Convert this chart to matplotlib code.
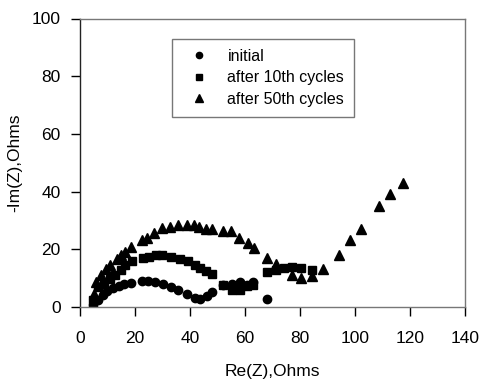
import matplotlib
matplotlib.use("Agg")
import matplotlib.pyplot as plt

plt.rcParams['font.family'] = ['Liberation Sans', 'DejaVu Sans']

# initial (circles)
init_x = [4.9, 6.6, 8.4, 10.0, 12.1, 14.2, 16.1, 18.5, 22.5, 24.8, 27.2, 30.3, 33.1, 35.8,
          38.8, 41.9, 43.7, 46.1, 48.0, 52.0, 55.3, 58.1, 60.8, 63.0, 68.1]
init_y = [0.6, 2.3, 4.0, 5.4, 6.6, 7.3, 7.8, 8.4, 9.0, 9.0, 8.7, 7.9, 6.9, 5.8,
          4.4, 3.1, 2.6, 3.8, 5.2, 7.7, 8.1, 8.7, 7.7, 8.7, 2.9]

# after 10th cycles (squares)
c10_x = [4.9, 6.6, 8.8, 10.8, 12.7, 14.9, 16.4, 18.8, 22.8, 25.0, 27.6, 30.0, 33.0, 36.4,
         39.2, 41.9, 43.7, 45.9, 48.0, 52.0, 55.3, 58.1, 60.8, 63.0, 68.1, 71.2, 74.2,
         77.3, 80.4, 84.6]
c10_y = [2.3, 6.9, 8.1, 9.6, 11.0, 12.7, 14.4, 15.9, 17.0, 17.4, 17.9, 18.1, 17.5, 16.7,
         15.9, 14.4, 13.6, 12.5, 11.3, 7.5, 6.0, 5.8, 7.2, 7.7, 12.1, 12.9, 13.5,
         13.8, 13.6, 12.9]

# after 50th cycles (triangles)
c50_x = [5.2, 6.0, 7.8, 9.6, 10.8, 13.3, 15.1, 16.5, 18.5, 22.5, 24.3, 27.0, 29.7, 32.7,
         35.8, 38.8, 41.6, 43.4, 45.8, 48.2, 52.0, 55.1, 58.0, 61.0, 63.2, 68.1, 71.2,
         77.3, 80.4, 84.4, 88.3, 94.4, 98.3, 102.3, 108.7, 112.7, 117.6]
c50_y = [4.5, 8.7, 11.0, 13.3, 14.4, 16.7, 18.1, 19.0, 20.8, 23.1, 23.9, 25.6, 27.3, 27.7,
         28.3, 28.5, 28.3, 27.7, 27.1, 26.9, 26.5, 26.2, 24.0, 22.1, 20.5, 17.1, 15.0,
         11.0, 10.0, 10.7, 13.0, 18.0, 23.1, 27.1, 34.9, 39.2, 43.0]

labels = ["initial", "after 10th cycles", "after 50th cycles"]
x_ticks = [0, 20, 40, 60, 80, 100, 120, 140]
y_ticks = [0, 20, 40, 60, 80, 100]

fig = plt.figure(figsize=(4.82, 3.79), dpi=100)
ax = fig.add_axes([80 / 482, 1 - 307 / 379, (464.7 - 80) / 482, (307 - 18.5) / 379])

ax.plot(init_x, init_y, 'o', color='black', markersize=6, linestyle='none', label=labels[0])
ax.plot(c10_x, c10_y, 's', color='black', markersize=5.5, linestyle='none', label=labels[1])
ax.plot(c50_x, c50_y, '^', color='black', markersize=7, linestyle='none', label=labels[2])

ax.set_xlim(0, 140)
ax.set_ylim(0, 100)
ax.set_xticks(x_ticks)
ax.set_yticks(y_ticks)
ax.tick_params(direction='out', length=6.5, width=1, labelsize=12.5, colors='black')
ax.tick_params(axis='x', pad=10.5)
ax.tick_params(axis='y', pad=7.5)
ax.set_xlabel("Re(Z),Ohms", fontsize=12.5, labelpad=13)
ax.set_ylabel("-Im(Z),Ohms", fontsize=12.5, labelpad=7)

ax.spines['left'].set_color('#222222')
for side in ['top', 'right', 'bottom']:
    ax.spines[side].set_color('#777777')
for s in ax.spines.values():
    s.set_linewidth(1)

leg = ax.legend(loc='upper left', bbox_to_anchor=(0.24, 0.929), borderaxespad=0,
                fontsize=11.5, frameon=True, fancybox=False, edgecolor='#555555',
                markerscale=0.75, handlelength=2.1, handletextpad=0.75,
                borderpad=0.6, labelspacing=0.42)
leg.get_frame().set_linewidth(1)

fig.savefig("out.png", dpi=100)
